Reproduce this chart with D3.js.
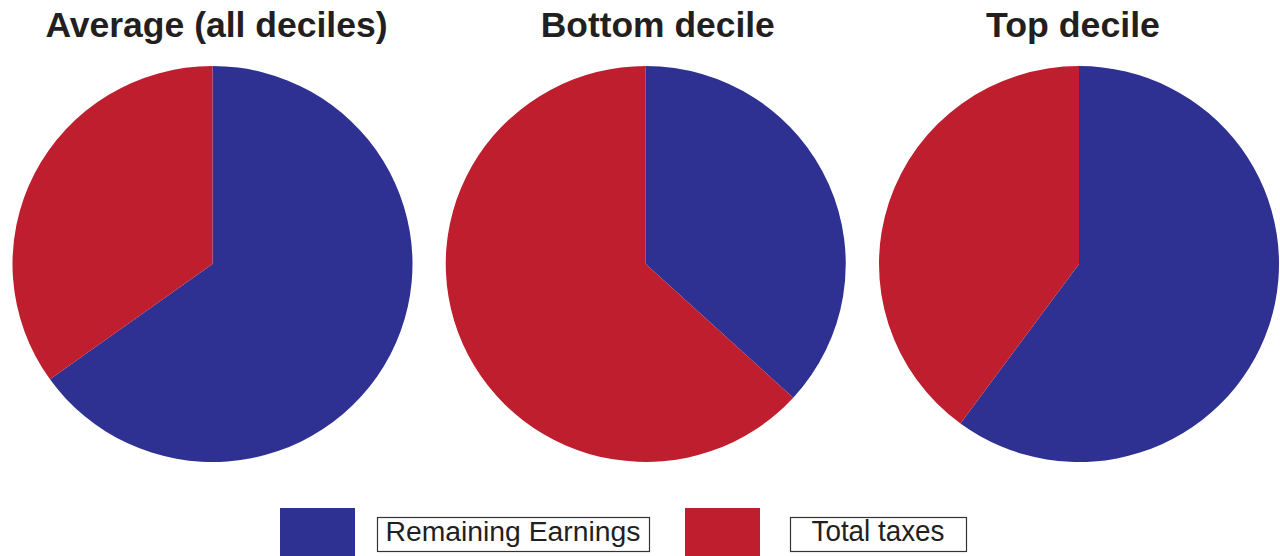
<!DOCTYPE html>
<html>
<head>
<meta charset="utf-8">
<script src="https://cdn.jsdelivr.net/npm/d3@7"></script>
<style>
  html, body { margin: 0; padding: 0; background: #fff; }
  svg { display: block; }
</style>
</head>
<body>
<svg id="chart" width="1280" height="556"></svg>
<script>
// Share of earnings kept vs. paid in taxes (%)
const panels = ["Average (all deciles)", "Bottom decile", "Top decile"];
const seriesNames = ["Remaining Earnings", "Total taxes"];
const remainingEarnings = [65.1, 36.8, 60.1];
const totalTaxes = [34.9, 63.2, 39.9];
const colors = ["#2e3192", "#be1e2d"];

const svg = d3.select("#chart");

const x = d3.scalePoint().domain(panels).range([212.5, 1079]);
const radius = 200;
const cy = 264;
const squash = 0.99; // pies are very slightly flattened vertically

// title placement per panel (centre offset, width)
const titleLayout = [
  { dx: 4, w: 342 },
  { dx: 12, w: 234 },
  { dx: -6, w: 174 }
];

const pie = d3.pie().sort(null).value(d => d.value);
const arc = d3.arc().innerRadius(0).outerRadius(radius);
const color = d3.scaleOrdinal().domain(seriesNames).range(colors);

panels.forEach((p, i) => {
  const data = [
    { name: seriesNames[0], value: remainingEarnings[i] },
    { name: seriesNames[1], value: totalTaxes[i] }
  ];
  const g = svg.append("g").attr("transform", `translate(${x(p)},${cy}) scale(1,${squash})`);
  g.selectAll("path")
    .data(pie(data))
    .join("path")
    .attr("d", arc)
    .attr("fill", d => color(d.data.name));

  svg.append("text")
    .attr("x", x(p) + titleLayout[i].dx)
    .attr("y", 37)
    .attr("text-anchor", "middle")
    .attr("font-family", "Liberation Sans, Arial, sans-serif")
    .attr("font-weight", "bold")
    .attr("font-size", 35)
    .attr("textLength", titleLayout[i].w)
    .attr("lengthAdjust", "spacingAndGlyphs")
    .attr("fill", "#231f20")
    .text(p);
});

// Legend
const legendItems = [
  { name: seriesNames[0], sx: 280, bx: 377, bw: 272, tw: 255, fs: 27 },
  { name: seriesNames[1], sx: 685, bx: 790, bw: 176, tw: 133, fs: 30 }
];
const lg = svg.append("g");
legendItems.forEach(it => {
  lg.append("rect")
    .attr("x", it.sx).attr("y", 508)
    .attr("width", 75).attr("height", 48)
    .attr("fill", color(it.name));
  lg.append("rect")
    .attr("x", it.bx + 0.5).attr("y", 517.5)
    .attr("width", it.bw).attr("height", 34)
    .attr("fill", "none")
    .attr("stroke", "#333")
    .attr("stroke-width", 1.2);
  lg.append("text")
    .attr("x", it.bx + it.bw / 2)
    .attr("y", 541)
    .attr("text-anchor", "middle")
    .attr("font-family", "Liberation Sans, Arial, sans-serif")
    .attr("font-size", it.fs)
    .attr("textLength", it.tw)
    .attr("lengthAdjust", "spacingAndGlyphs")
    .attr("fill", "#231f20")
    .text(it.name);
});
</script>
</body>
</html>
